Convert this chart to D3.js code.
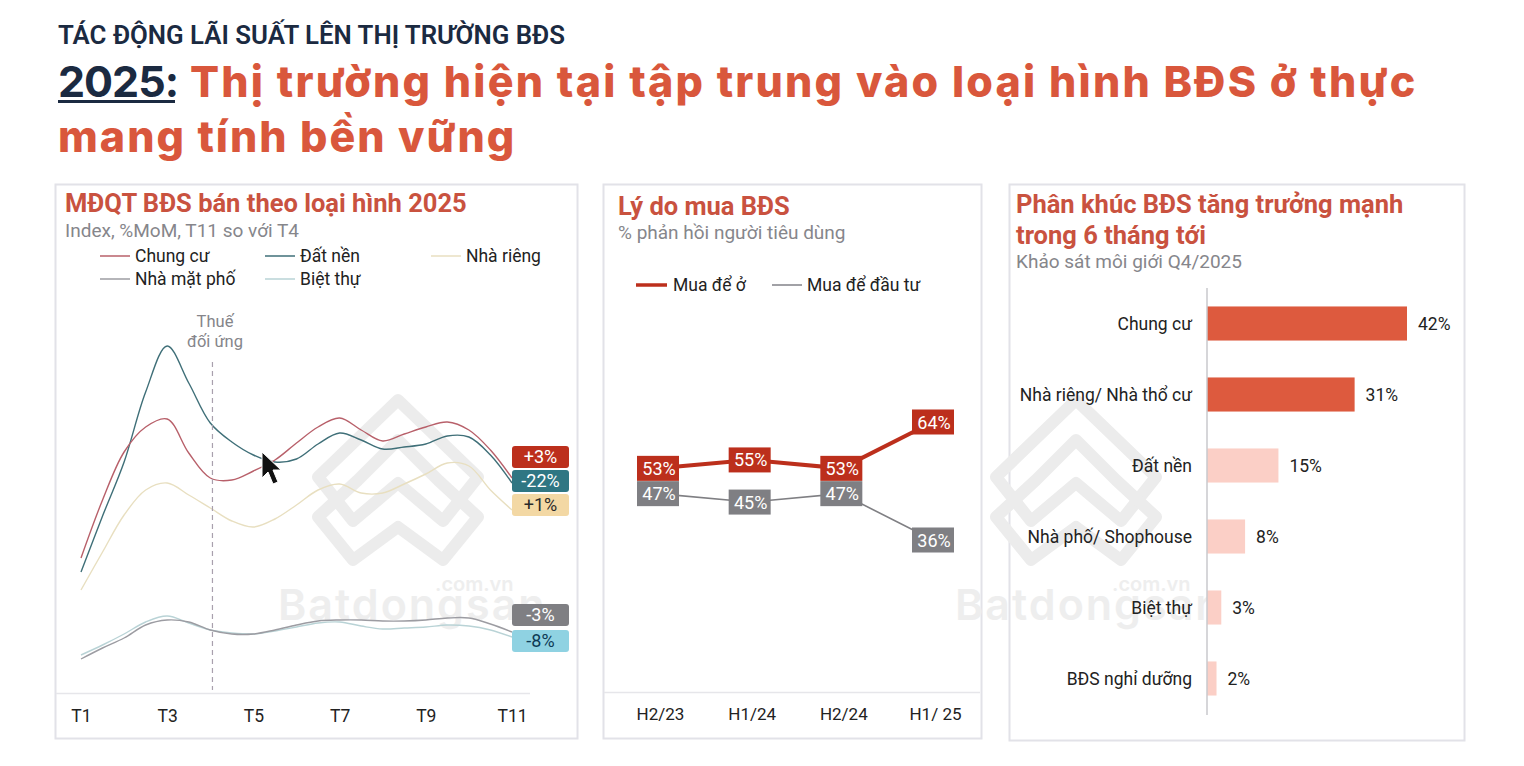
<!DOCTYPE html>
<html><head><meta charset="utf-8">
<script src="https://cdn.jsdelivr.net/npm/d3@7"></script>
<style>html,body{margin:0;padding:0;background:#fff}svg{display:block}</style>
</head><body><svg id="c" width="1524" height="766"></svg>
<script>
const months=[1,1.5,2,2.5,3,3.5,4,4.5,5,5.5,6,6.5,7,7.5,8,8.5,9,9.5,10,10.5,11];
const monthTicks=[1,3,5,7,9,11];
const chungCu=[132,190,238,263,271,237,212,210,219,230,247,263,272,260,249,256,263,268,260,240,212];
const datNen=[118,174,228,298,344,307,267,248,235,228,231,246,257,250,241,243,246,254,253,235,207];
const nhaRieng=[100,138,175,200,207,195,182,169,163,171,185,200,206,197,197,206,216,227,224,200,180];
const nhaMatPho=[31,42,52,65,70,68,60,56,56,60,65,69,70,70,69,69,70,72,72,66,58];
const bietThu=[35,45,56,68,74,67,60,57,56,59,63,67,68,64,61,62,63,65,64,60,53];
const lineNames=["Chung cư","Đất nền","Nhà riêng","Nhà mặt phố","Biệt thự"];
const lineLabels=["+3%","-22%","+1%","-3%","-8%"];
const reasonPeriods=["H2/23","H1/24","H2/24","H1/ 25"];
const muaDeO=[53,55,53,64];
const muaDauTu=[47,45,47,36];
const segments=["Chung cư","Nhà riêng/ Nhà thổ cư","Đất nền","Nhà phố/ Shophouse","Biệt thự","BĐS nghỉ dưỡng"];
const segmentValues=[42,31,15,8,3,2];

const svg=d3.select("#c");
const RED="#d9573c",TITLE="#c9523f",NAVY="#1b2a41",SUB="#86868b";
const txt=(x,y,s,size,fill,o={})=>svg.append("text").attr("x",x).attr("y",y).text(s)
  .attr("font-size",size).attr("fill",fill).attr("font-weight",o.w||400).attr("text-anchor",o.a||"start")
  .attr("font-family",o.f||"Roboto, sans-serif").attr("letter-spacing",o.ls||null);

// panels
[[55.5,184.5,522,554],[603.5,184.5,378,554],[1009.5,184.5,455,556]].forEach(p=>
  svg.append("rect").attr("x",p[0]).attr("y",p[1]).attr("width",p[2]).attr("height",p[3]).attr("fill","#fff").attr("stroke","#e2e2e8").attr("stroke-width",2));

// watermarks
function mark(cx,textX){
  const g=svg.append("g").attr("transform",`translate(${cx},480)`).attr("fill","none").attr("stroke","#ececec").attr("stroke-width",12).attr("stroke-linejoin","round");
  g.append("path").attr("d","M0,-80L-80,-3L-45,41L0,3L45,41L80,-3Z");
  g.append("path").attr("d","M0,-40L40,0L80,37L45,80L0,47L-45,80L-80,37L-40,0Z");
  svg.append("text").attr("x",textX).attr("y",620).text("Batdongsan").attr("font-size",43).attr("font-weight",600).attr("fill","#eeeeee").attr("font-family","Inter, sans-serif").attr("letter-spacing",2);
  svg.append("text").attr("x",textX+157).attr("y",591).text(".com.vn").attr("font-size",20).attr("font-weight",600).attr("fill","#eeeeee").attr("font-family","Inter, sans-serif");
}
mark(398,278);mark(1076,955);

// heading
txt(58,44,"TÁC ĐỘNG LÃI SUẤT LÊN THỊ TRƯỜNG BĐS",25.8,NAVY,{w:600});
txt(58,97,"2025:",43,NAVY,{w:700,f:"Inter, sans-serif",ls:-1});
svg.append("rect").attr("x",58).attr("y",100).attr("width",117).attr("height",3).attr("fill",NAVY);
txt(190,97,"Thị trường hiện tại tập trung vào loại hình BĐS ở thực",43,RED,{w:800,f:"Inter, sans-serif",ls:2.2});
txt(58,152,"mang tính bền vững",43,RED,{w:800,f:"Inter, sans-serif",ls:2});

// panel 1
txt(65,212,"MĐQT BĐS bán theo loại hình 2025",25.5,TITLE,{w:700});
txt(65,237,"Index, %MoM, T11 so với T4",19,SUB);
const lineColors=["#b8606a","#3f6f78","#e8dfc0","#9c9ca2","#b9d3d6"];
const tagColors=["#bc2f1c","#2f7683","#f3d8a4","#7f7f83","#8fd2e2"];
const tagText=["#fff","#fff","#2a2a2a","#fff","#0d3a55"];
const legendX=[100,265,431,100,265],legendY=[256,256,256,279,279];
lineNames.forEach((n,i)=>{
  svg.append("line").attr("x1",legendX[i]).attr("x2",legendX[i]+30).attr("y1",legendY[i]).attr("y2",legendY[i]).attr("stroke",lineColors[i]).attr("stroke-width",1.5);
  txt(legendX[i]+35,legendY[i]+6,n,17.5,"#222");
});
const x1=d3.scaleLinear().domain([1,11]).range([81,512]);
const y1=d3.scaleLinear().domain([0,400]).range([690,290]);
const line1=d3.line().x((d,i)=>x1(months[i])).y(d=>y1(d)).curve(d3.curveCatmullRom.alpha(.5));
[[nhaRieng,2],[bietThu,4],[nhaMatPho,3],[datNen,1],[chungCu,0]].forEach(([s,i])=>{
  svg.append("path").attr("d",line1(s)).attr("fill","none").attr("stroke",lineColors[i]).attr("stroke-width",1.4);
});
// event marker
svg.append("line").attr("x1",x1(4.05)).attr("x2",x1(4.05)).attr("y1",362).attr("y2",690).attr("stroke","#a9a0ad").attr("stroke-width",1.2).attr("stroke-dasharray","5 4");
txt(215,327,"Thuế",16.5,"#85858a",{a:"middle"});
txt(215,347,"đối ứng",16.5,"#85858a",{a:"middle"});
// axis
const ax1=svg.append("g").attr("transform","translate(0,695)").call(d3.axisBottom(x1).tickValues(monthTicks).tickSize(0).tickPadding(15).tickFormat(d=>"T"+d));
ax1.select(".domain").remove();
ax1.selectAll("text").attr("font-size",17.5).attr("fill","#222").attr("font-family","Roboto, sans-serif");
svg.append("line").attr("x1",56).attr("x2",530).attr("y1",693.5).attr("y2",693.5).attr("stroke","#e6e6ea").attr("stroke-width",1.5);
// end tags
const tagCenter=[457,481,505,615,641];
lineLabels.forEach((l,i)=>{
  svg.append("rect").attr("x",512).attr("y",tagCenter[i]-11).attr("width",57).attr("height",22).attr("rx",3).attr("fill",tagColors[i]);
  txt(540.5,tagCenter[i]+6,l,18,tagText[i],{a:"middle"});
});

// panel 2
txt(618,215,"Lý do mua BĐS",25.5,TITLE,{w:700});
txt(618,239,"% phản hồi người tiêu dùng",19,SUB);
svg.append("line").attr("x1",636).attr("x2",667).attr("y1",285).attr("y2",285).attr("stroke","#bc2f1c").attr("stroke-width",3.5);
txt(673,291,"Mua để ở",17.5,"#222");
svg.append("line").attr("x1",772).attr("x2",802).attr("y1",285).attr("y2",285).attr("stroke","#8a8a90").attr("stroke-width",1.6);
txt(807,291,"Mua để đầu tư",17.5,"#222");
const x2=d3.scalePoint().domain(reasonPeriods).range([658,933]);
const y2=d3.scaleLinear().domain([36,64]).range([540,422]);
const line2=d3.line().x((d,i)=>x2(reasonPeriods[i])).y(d=>y2(d));
const draw2=(vals,color,w)=>{
  svg.append("path").attr("d",line2(vals)).attr("fill","none").attr("stroke",color).attr("stroke-width",w);
  vals.forEach((v,i)=>{
    svg.append("rect").attr("x",x2(reasonPeriods[i])-21).attr("y",y2(v)-12.5).attr("width",42).attr("height",25).attr("fill",color);
    txt(x2(reasonPeriods[i])+1,y2(v)+6.5,v+"%",18,"#fff",{a:"middle"});
  });
};
draw2(muaDauTu,"#7f7f83",1.6);
draw2(muaDeO,"#bc2f1c",4);
const ax2=svg.append("g").attr("transform","translate(2,693)").call(d3.axisBottom(x2).tickSize(0).tickPadding(15));
ax2.select(".domain").remove();
ax2.selectAll("text").attr("font-size",17).attr("fill","#222").attr("font-family","Roboto, sans-serif");
svg.append("line").attr("x1",604).attr("x2",980).attr("y1",692.5).attr("y2",692.5).attr("stroke","#e6e6ea").attr("stroke-width",1.5);

// panel 3
txt(1016,213,"Phân khúc BĐS tăng trưởng mạnh",25.5,TITLE,{w:700});
txt(1016,244,"trong 6 tháng tới",25.5,TITLE,{w:700});
txt(1016,268,"Khảo sát môi giới Q4/2025",19,SUB);
const x3=d3.scaleLinear().domain([0,42]).range([1207,1407]);
const y3=d3.scaleBand().domain(segments).range([288,714]).paddingInner(.52).paddingOuter(.26);
const barColors=["#dd5a3e","#dd5a3e","#fbcfc6","#fbcfc6","#fbcfc6","#fbcfc6"];
svg.selectAll(".b").data(segmentValues).enter().append("rect").attr("class","b")
  .attr("x",x3(0)).attr("y",(d,i)=>y3(segments[i])).attr("width",d=>x3(d)-x3(0)).attr("height",y3.bandwidth()).attr("fill",(d,i)=>barColors[i]);
segmentValues.forEach((v,i)=>{
  txt(x3(v)+11,y3(segments[i])+y3.bandwidth()/2+6,v+"%",17.5,"#222");
  txt(1192,y3(segments[i])+y3.bandwidth()/2+6,segments[i],17.5,"#222",{a:"end"});
});
svg.append("line").attr("x1",1207).attr("x2",1207).attr("y1",288).attr("y2",715).attr("stroke","#c9c9cd").attr("stroke-width",1.5);

// cursor
svg.append("path").attr("d","M262,452L262,478L268,472L273,484L278,482L273,470L281,470Z").attr("fill","#111").attr("stroke","#fff").attr("stroke-width",1);
</script></body></html>
